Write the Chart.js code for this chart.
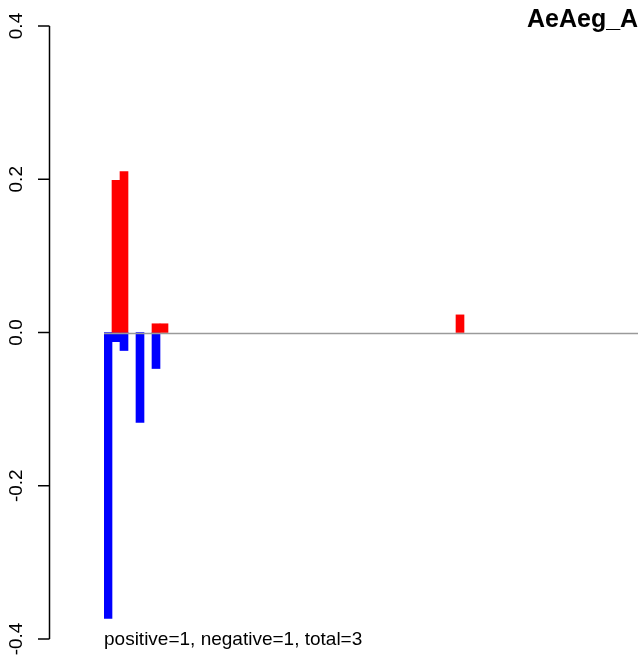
<!DOCTYPE html>
<html>
<head>
<meta charset="utf-8">
<script src="https://cdn.jsdelivr.net/npm/chart.js@4/dist/chart.umd.min.js"></script>
<style>
html, body { margin: 0; padding: 0; background: #fff; overflow: hidden; }
canvas { display: block; }
</style>
</head>
<body>
<canvas id="c" width="640" height="656"></canvas>
<script>
// ---- data ----
const slotCount = 67;                       // number of bar positions on the x axis
const redSlots   = [1, 2, 6, 7, 44];
const redValues  = [0.1985, 0.210, 0.0114, 0.0114, 0.023];
const blueSlots  = [0, 1, 2, 4, 6];
const blueValues = [-0.373, -0.012, -0.0235, -0.1175, -0.047];
const yTickValues = [-0.4, -0.2, 0.0, 0.2, 0.4];
const yTickLabels = ['-0.4', '-0.2', '0.0', '0.2', '0.4'];
const titleText = 'AeAeg_A';
const footText = 'positive=1, negative=1, total=3';

// ---- build library data ----
const labels = [];
for (let i = 0; i < slotCount; i++) labels.push(String(i + 1));
const redData = new Array(slotCount).fill(null);
redSlots.forEach((s, k) => { redData[s] = redValues[k]; });
const blueData = new Array(slotCount).fill(null);
blueSlots.forEach((s, k) => { blueData[s] = blueValues[k]; });

const FONT = '"Liberation Sans", Arial, Helvetica, sans-serif';

const decor = {
  id: 'decor',
  afterDatasetsDraw(chart) {
    const ctx = chart.ctx;
    const y = chart.scales.y;
    const area = chart.chartArea;
    ctx.save();
    // zero line
    const y0 = Math.round(y.getPixelForValue(0)) + 0.5;
    ctx.strokeStyle = '#9a9a9a';
    ctx.lineWidth = 1.5;
    ctx.beginPath();
    ctx.moveTo(area.left, y0);
    ctx.lineTo(area.right, y0);
    ctx.stroke();

    // y axis (R style, offset to the left)
    const ax = 49.5;
    ctx.strokeStyle = '#000';
    ctx.lineWidth = 1.5;
    ctx.beginPath();
    ctx.moveTo(ax, y.getPixelForValue(yTickValues[yTickValues.length - 1]));
    ctx.lineTo(ax, y.getPixelForValue(yTickValues[0]));
    ctx.stroke();
    ctx.fillStyle = '#000';
    ctx.font = '19px ' + FONT;
    ctx.textAlign = 'center';
    ctx.textBaseline = 'alphabetic';
    yTickValues.forEach((v, i) => {
      const py = y.getPixelForValue(v);
      ctx.beginPath();
      ctx.moveTo(38, py);
      ctx.lineTo(ax, py);
      ctx.stroke();
      ctx.save();
      ctx.translate(22, py);
      ctx.rotate(-Math.PI / 2);
      ctx.fillText(yTickLabels[i], 0, 0);
      ctx.restore();
    });

    // title
    ctx.font = 'bold 25px ' + FONT;
    ctx.textAlign = 'left';
    ctx.fillText(titleText, 527, 27);

    // footer text
    ctx.font = '19px ' + FONT;
    ctx.fillText(footText, 104, 645);
    ctx.restore();
  }
};

new Chart(document.getElementById('c'), {
  type: 'bar',
  data: {
    labels: labels,
    datasets: [
      { label: 'positive', data: redData, backgroundColor: '#ff0000', borderWidth: 0,
        barPercentage: 1.0, categoryPercentage: 1.0 },
      { label: 'negative', data: blueData, backgroundColor: '#0000ff', borderWidth: 0,
        barPercentage: 1.0, categoryPercentage: 1.0 }
    ]
  },
  options: {
    responsive: false,
    animation: false,
    layout: { padding: { left: 104, right: 0, top: 26, bottom: 17 } },
    plugins: { legend: { display: false }, tooltip: { enabled: false }, title: { display: false } },
    scales: {
      x: { display: false, stacked: true, grid: { display: false } },
      y: { display: false, stacked: true, min: -0.4, max: 0.4, grid: { display: false } }
    }
  },
  plugins: [decor]
});
</script>
</body>
</html>
